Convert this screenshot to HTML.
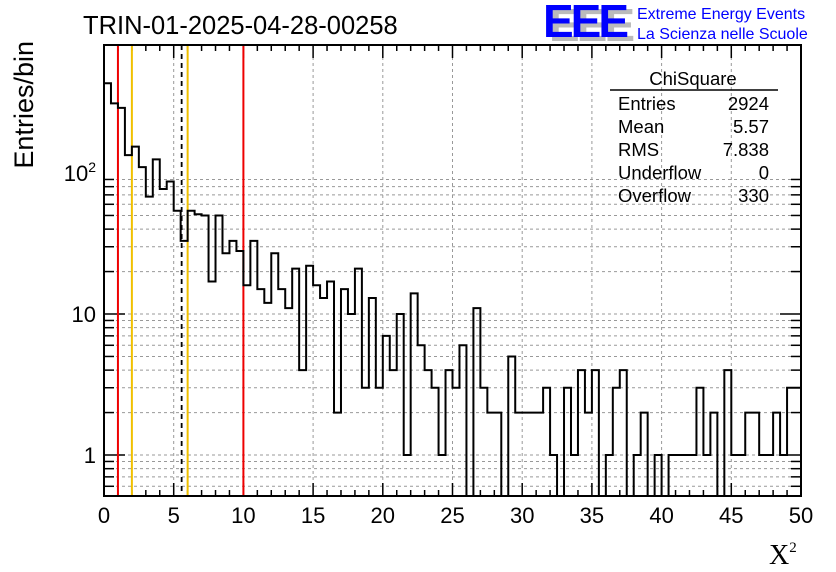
<!DOCTYPE html>
<html><head><meta charset="utf-8"><style>
html,body{margin:0;padding:0;background:#fff;}
svg{display:block;font-family:"Liberation Sans",sans-serif;}
</style></head><body>
<svg id="chart" width="836" height="572" viewBox="0 0 836 572">
<text x="83" y="34" font-size="25.5">TRIN-01-2025-04-28-00258</text>
<g>
<text x="549" y="41" font-size="46" font-weight="bold" fill="#bbb" letter-spacing="-3">EEE</text>
<text x="543" y="37" font-size="46" font-weight="bold" fill="#00f" letter-spacing="-3">EEE</text>
<text x="637" y="19" font-size="16" fill="#00f">Extreme Energy Events</text>
<text x="637" y="39" font-size="16" fill="#00f">La Scienza nelle Scuole</text>
</g>
<g id="grid"></g>
<g id="ticks"></g>
<g id="marks"></g>
<g id="hist"></g>
<rect x="104" y="45" width="697" height="451" fill="none" stroke="#000" stroke-width="2"/>
<g font-size="18.5">
<text x="693" y="85" text-anchor="middle">ChiSquare</text>
<line x1="610" y1="90" x2="778" y2="90" stroke="#000" stroke-width="1.5"/>
<text x="618" y="110">Entries</text>
<text x="769" y="110" text-anchor="end">2924</text>
<text x="618" y="133">Mean</text>
<text x="769" y="133" text-anchor="end">5.57</text>
<text x="618" y="156">RMS</text>
<text x="769" y="156" text-anchor="end">7.838</text>
<text x="618" y="179">Underflow</text>
<text x="769" y="179" text-anchor="end">0</text>
<text x="618" y="202">Overflow</text>
<text x="769" y="202" text-anchor="end">330</text>
</g>
<text transform="translate(33,41) rotate(-90)" font-size="27" text-anchor="end">Entries/bin</text>
<text x="769" y="564" font-size="28" font-family="Liberation Serif,serif">X<tspan font-size="15" dy="-12">2</tspan></text>
</svg>
<script>
const counts = [433,312,290,134,154,110,68,125,77,87,54,33,54,51,50,17,50,27,33,28,
16,33,15,12,27,15,11,21,4,22,16,13,17,2,15,10,21,3,13,3,
7,4,10,1,14,6,4,3,1,4,3,6,0,11,3,2,2,0,5,2,
2,2,2,3,1,0,3,1,4,2,4,0,1,3,4,0,1,2,0,1,
0,1,1,1,1,3,1,2,0,4,1,1,2,2,1,1,2,1,3,3];
const xTicks = [0,5,10,15,20,25,30,35,40,45,50];
const yTickLabels = [1,10,100];
const markerLines = [1,2,5.57,6,10];
const markerColors = ['#e00','#f0c000','#000','#f0c000','#e00'];
const binWidth = 0.5;

const NS='http://www.w3.org/2000/svg';
const X0=104,X1=801,Y0=496,Y1=45;
const LMIN=Math.log10(0.512),LMAX=Math.log10(809);
function xs(v){return X0+(v-0)/(50-0)*(X1-X0);}
function ys(v){if(v<=0)return Y0;return Y0-(Math.log10(v)-LMIN)/(LMAX-LMIN)*(Y0-Y1);}
function mk(tag,attrs,parent){const e=document.createElementNS(NS,tag);for(const k in attrs)e.setAttribute(k,attrs[k]);parent.appendChild(e);return e;}
const grid=document.getElementById('grid'),ticks=document.getElementById('ticks'),marks=document.getElementById('marks'),hist=document.getElementById('hist');

for(let v=0;v<=50;v++){
  const x=xs(v),major=v%5===0;
  if(major&&v>0&&v<50){const g=mk('line',{x1:x,x2:x,y1:Y1,y2:Y0,stroke:'#999','stroke-dasharray':'3,3','stroke-width':1},grid);
  
  }
  const L=major?13:6;
  const t1=mk('line',{x1:x,x2:x,y1:Y0,y2:Y0-L,stroke:'#000','stroke-width':1.5},ticks);
  
  
  const t2=mk('line',{x1:x,x2:x,y1:Y1,y2:Y1+L,stroke:'#000','stroke-width':1.5},ticks);
  
  
}
xTicks.forEach(v=>{const t=mk('text',{x:xs(v),y:523,'font-size':22,'text-anchor':'middle'},ticks);t.textContent=v;
  
  });
for(let d=0;d<3;d++){for(let m=1;m<=9;m++){const v=m*Math.pow(10,d-1);if(v<0.512||v>809)continue;
  const y=ys(v);
  const g=mk('line',{x1:X0,x2:X1,y1:y,y2:y,stroke:'#999','stroke-dasharray':'3,3','stroke-width':1},grid);
  
  
  const L=(m===1)?21:10;
  const t1=mk('line',{x1:X0,x2:X0+L,y1:y,y2:y,stroke:'#000','stroke-width':1.5},ticks);
  
  
  const t2=mk('line',{x1:X1,x2:X1-L,y1:y,y2:y,stroke:'#000','stroke-width':1.5},ticks);
  
  
}}
yTickLabels.forEach(v=>{const t=mk('text',{x:96,y:ys(v)+8,'font-size':22,'text-anchor':'end'},ticks);
  if(v===100){t.textContent='10';const s=mk('tspan',{dy:-9,'font-size':14},t);s.textContent='2';}else t.textContent=v;
  
  });
markerLines.forEach((v,i)=>{const a={x1:xs(v),x2:xs(v),y1:Y1,y2:Y0,stroke:markerColors[i],'stroke-width':2};
  if(markerColors[i]==='#000'){a['stroke-dasharray']='5,4';a['stroke-width']=1.8;}
  const l=mk('line',a,marks);
  
  });
let d='M'+xs(0)+','+ys(counts[0]);
counts.forEach((c,i)=>{const y=ys(c);d+=' L'+xs(i*binWidth)+','+y+' L'+xs((i+1)*binWidth)+','+y;});
const p=mk('path',{d:d,fill:'none',stroke:'#000','stroke-width':2},hist);


</script>
</body></html>
